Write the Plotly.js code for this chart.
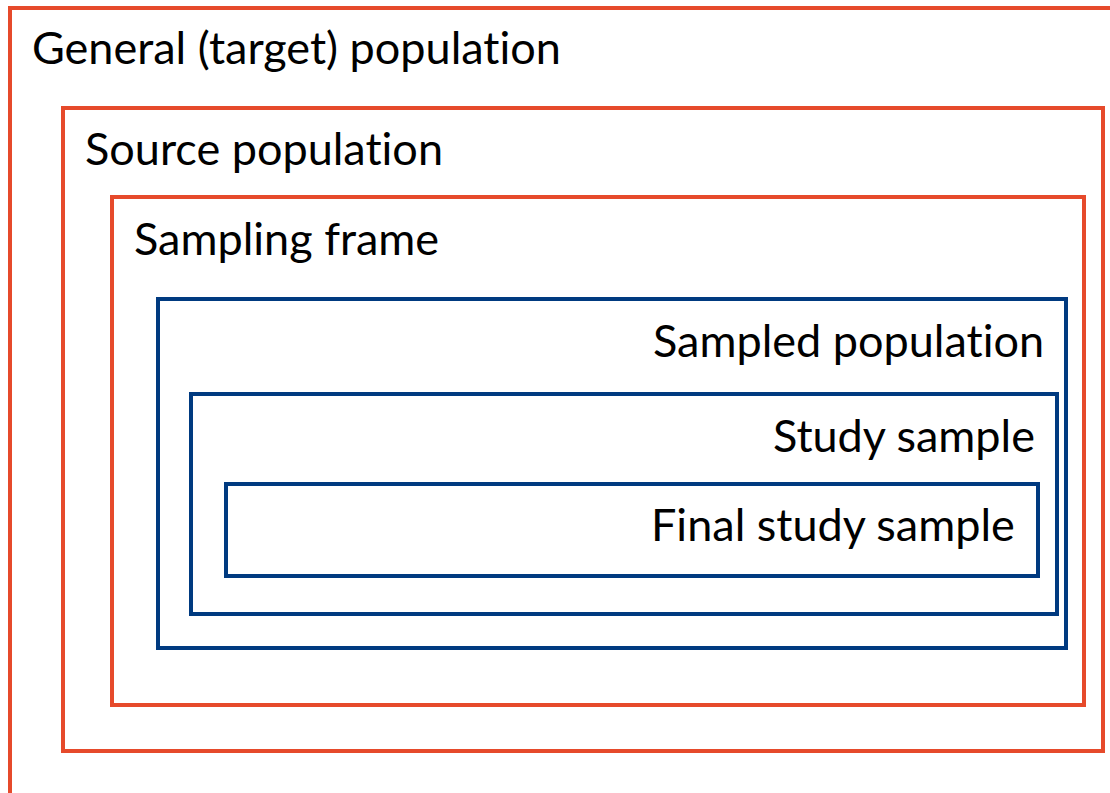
<!DOCTYPE html>
<html>
<head>
<meta charset="utf-8">
<script src="https://cdn.plot.ly/plotly-3.0.1.min.js"></script>
<style>html,body{margin:0;padding:0;background:#fff;}#chart{width:1110px;height:793px;}
text{font-variant-ligatures:none;font-feature-settings:"liga" 0;}</style>
</head>
<body>
<div id="chart"></div>
<script>
// Nested boxes (diagram units = pixels of the original picture)
const labels = ["General (target) population", "Source population", "Sampling frame",
                "Sampled population", "Study sample", "Final study sample"];
const boxX0 = [10, 63, 112, 158, 191, 226];
const boxX1 = [1125, 1103, 1084, 1066, 1057, 1038];
const boxY0 = [8, 108, 197, 299, 394, 484];
const boxY1 = [820, 751, 705, 648, 614, 576];
const boxColor = ["#e64a2b", "#e64a2b", "#e64a2b", "#003a80", "#003a80", "#003a80"];
const labelX = [30, 83, 132, 1046, 1037, 1017];
const labelY = [47, 148, 238, 340, 435, 524];
const labelAlign = ["left", "left", "left", "right", "right", "right"];

const shapes = labels.map((l, i) => ({
  type: "rect", xref: "x", yref: "y",
  x0: boxX0[i], x1: boxX1[i], y0: boxY0[i], y1: boxY1[i],
  line: {color: boxColor[i], width: 4}, fillcolor: "rgba(0,0,0,0)"
}));

const annotations = labels.map((l, i) => ({
  text: l, xref: "x", yref: "y", x: labelX[i], y: labelY[i],
  xanchor: labelAlign[i], yanchor: "middle", showarrow: false,
  font: {family: "Lato, 'Open Sans', sans-serif", size: 45, color: "#000"}
}));

Plotly.newPlot("chart", [], {
  width: 1110, height: 793,
  margin: {l: 0, r: 0, t: 0, b: 0},
  paper_bgcolor: "#fff", plot_bgcolor: "#fff",
  xaxis: {range: [0, 1110], visible: false, fixedrange: true},
  yaxis: {range: [793, 0], visible: false, fixedrange: true},
  shapes: shapes, annotations: annotations, showlegend: false
}, {displayModeBar: false, staticPlot: true});
</script>
</body>
</html>
